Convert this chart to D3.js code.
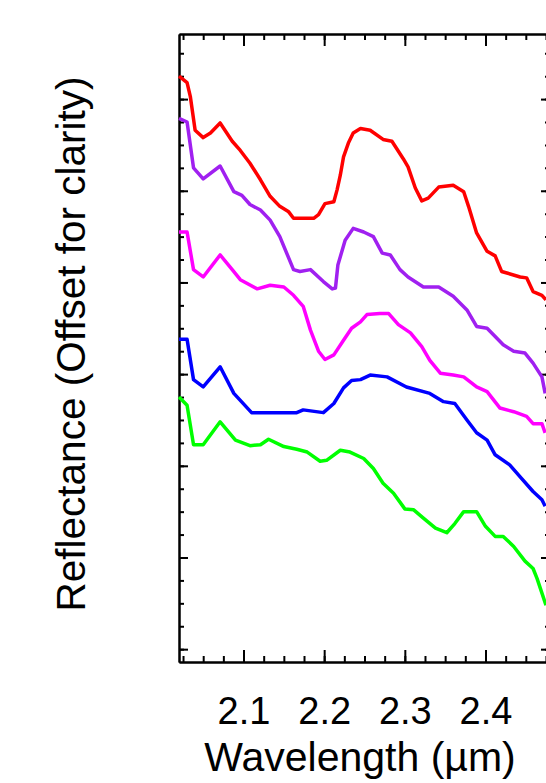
<!DOCTYPE html>
<html>
<head>
<meta charset="utf-8">
<script src="https://cdn.jsdelivr.net/npm/d3@7"></script>
<style>
  body { margin: 0; background: #fff; }
  text { font-family: "Liberation Sans", Arial, sans-serif; fill: #000; }
</style>
</head>
<body>
<div id="chart"></div>
<script>
// wavelength (um) and offset reflectance
var redW = [2.020, 2.030, 2.034, 2.040, 2.050, 2.059, 2.071, 2.086, 2.096, 2.108, 2.121, 2.133, 2.145, 2.156, 2.162, 2.187, 2.193, 2.201, 2.212, 2.216, 2.220, 2.224, 2.230, 2.236, 2.245, 2.257, 2.273, 2.284, 2.298, 2.304, 2.313, 2.321, 2.329, 2.342, 2.360, 2.373, 2.379, 2.389, 2.402, 2.412, 2.420, 2.443, 2.451, 2.459, 2.470, 2.475];
var redR = [0.725, 0.718, 0.703, 0.666, 0.658, 0.663, 0.674, 0.654, 0.644, 0.630, 0.612, 0.594, 0.583, 0.577, 0.570, 0.570, 0.574, 0.586, 0.588, 0.601, 0.617, 0.637, 0.652, 0.663, 0.668, 0.666, 0.656, 0.654, 0.635, 0.626, 0.603, 0.589, 0.592, 0.604, 0.606, 0.599, 0.583, 0.554, 0.534, 0.529, 0.512, 0.506, 0.505, 0.490, 0.486, 0.481];

var purpleW = [2.020, 2.030, 2.038, 2.050, 2.071, 2.088, 2.098, 2.108, 2.121, 2.133, 2.145, 2.162, 2.170, 2.183, 2.199, 2.210, 2.214, 2.217, 2.226, 2.236, 2.249, 2.261, 2.272, 2.282, 2.294, 2.304, 2.323, 2.342, 2.360, 2.377, 2.389, 2.402, 2.422, 2.435, 2.449, 2.459, 2.470, 2.474];
var purpleR = [0.679, 0.675, 0.625, 0.613, 0.627, 0.599, 0.595, 0.585, 0.579, 0.568, 0.550, 0.514, 0.512, 0.514, 0.501, 0.493, 0.494, 0.519, 0.546, 0.559, 0.555, 0.550, 0.532, 0.530, 0.514, 0.506, 0.495, 0.495, 0.485, 0.470, 0.452, 0.450, 0.432, 0.425, 0.423, 0.412, 0.397, 0.379];

var magentaW = [2.020, 2.030, 2.038, 2.050, 2.071, 2.086, 2.096, 2.117, 2.133, 2.150, 2.162, 2.174, 2.183, 2.193, 2.201, 2.212, 2.224, 2.234, 2.245, 2.253, 2.269, 2.280, 2.292, 2.307, 2.321, 2.331, 2.344, 2.360, 2.373, 2.389, 2.402, 2.418, 2.435, 2.451, 2.459, 2.470, 2.474];
var magentaR = [0.555, 0.555, 0.514, 0.506, 0.530, 0.514, 0.503, 0.493, 0.497, 0.495, 0.486, 0.474, 0.448, 0.425, 0.416, 0.421, 0.437, 0.450, 0.457, 0.465, 0.466, 0.466, 0.454, 0.445, 0.430, 0.415, 0.401, 0.399, 0.397, 0.386, 0.381, 0.363, 0.359, 0.354, 0.346, 0.346, 0.336];

var blueW = [2.020, 2.030, 2.038, 2.050, 2.071, 2.088, 2.110, 2.166, 2.174, 2.199, 2.212, 2.224, 2.234, 2.245, 2.257, 2.278, 2.302, 2.331, 2.348, 2.362, 2.377, 2.389, 2.402, 2.412, 2.430, 2.443, 2.459, 2.470, 2.474];
var blueR = [0.438, 0.438, 0.394, 0.386, 0.408, 0.379, 0.358, 0.358, 0.361, 0.358, 0.368, 0.385, 0.393, 0.394, 0.399, 0.397, 0.386, 0.379, 0.370, 0.368, 0.350, 0.336, 0.328, 0.312, 0.301, 0.288, 0.272, 0.263, 0.256];

var greenW = [2.020, 2.030, 2.038, 2.050, 2.071, 2.090, 2.108, 2.121, 2.131, 2.150, 2.166, 2.179, 2.195, 2.203, 2.220, 2.232, 2.249, 2.261, 2.273, 2.286, 2.300, 2.311, 2.323, 2.338, 2.352, 2.362, 2.373, 2.389, 2.400, 2.412, 2.422, 2.435, 2.449, 2.459, 2.464, 2.475];
var greenR = [0.375, 0.366, 0.323, 0.323, 0.348, 0.328, 0.322, 0.323, 0.329, 0.321, 0.318, 0.315, 0.305, 0.306, 0.317, 0.315, 0.308, 0.297, 0.281, 0.270, 0.253, 0.252, 0.243, 0.232, 0.227, 0.237, 0.250, 0.250, 0.234, 0.223, 0.223, 0.212, 0.196, 0.188, 0.177, 0.148];

var xTickValues = [2.1, 2.2, 2.3, 2.4];
var xTickLabels = ["2.1", "2.2", "2.3", "2.4"];
var xLabel = "Wavelength (\u00b5m)";
var yLabel = "Reflectance (Offset for clarity)";

var series = [
  {w: redW, r: redR, color: "#ff0000"},
  {w: purpleW, r: purpleR, color: "#a020f0"},
  {w: magentaW, r: magentaR, color: "#ff00ff"},
  {w: blueW, r: blueR, color: "#0000ff"},
  {w: greenW, r: greenR, color: "#00ff00"}
];

function spectraChart() {
  var W = 546, H = 783;
  var left = 179, top = 34, right = 550, bottom = 662;

  var x = d3.scaleLinear().domain([2.02, 2.48]).range([left, right]);
  var y = d3.scaleLinear().domain([0.086, 0.771]).range([bottom, top]);

  var svg = d3.select('#chart')
    .append('svg')
    .attr('width', W)
    .attr('height', H);

  var xMinor = d3.range(81, 100).map(function(i) { return i * 0.025; })
    .filter(function(v) { return v > 2.02 && v < 2.48; });
  var yMajor = d3.range(1, 8).map(function(i) { return i * 0.1; });
  var yMinor = d3.range(4, 31).map(function(i) { return i * 0.025; })
    .filter(function(v) { return v > 0.086 && v < 0.771; });

  function style(g) {
    g.selectAll('path, line').attr('stroke', '#000').attr('stroke-width', 2);
  }

  // minor ticks
  svg.append('g').attr('transform', 'translate(0,' + bottom + ')')
    .call(d3.axisBottom(x).tickValues(xMinor).tickSize(-6).tickSizeOuter(0).tickFormat(''))
    .call(style);
  svg.append('g').attr('transform', 'translate(0,' + top + ')')
    .call(d3.axisTop(x).tickValues(xMinor).tickSize(-6).tickSizeOuter(0).tickFormat(''))
    .call(style);
  svg.append('g').attr('transform', 'translate(' + left + ',0)')
    .call(d3.axisLeft(y).tickValues(yMinor).tickSize(-5).tickSizeOuter(0).tickFormat(''))
    .call(style);
  svg.append('g').attr('transform', 'translate(' + right + ',0)')
    .call(d3.axisRight(y).tickValues(yMinor).tickSize(-5).tickSizeOuter(0).tickFormat(''))
    .call(style);

  // major ticks
  var xb = svg.append('g').attr('transform', 'translate(0,' + bottom + ')')
    .call(d3.axisBottom(x).tickValues(xTickValues).tickSize(-12).tickSizeOuter(0).tickPadding(35)
      .tickFormat(function(d, i) { return xTickLabels[i]; }))
    .call(style);
  xb.selectAll('text').attr('font-size', 38).attr('fill', '#000')
    .style('font-family', '"Liberation Sans", Arial, sans-serif');

  svg.append('g').attr('transform', 'translate(0,' + top + ')')
    .call(d3.axisTop(x).tickValues(xTickValues).tickSize(-12).tickSizeOuter(0).tickFormat(''))
    .call(style);
  svg.append('g').attr('transform', 'translate(' + left + ',0)')
    .call(d3.axisLeft(y).tickValues(yMajor).tickSize(-9).tickSizeOuter(0).tickFormat(''))
    .call(style);
  svg.append('g').attr('transform', 'translate(' + right + ',0)')
    .call(d3.axisRight(y).tickValues(yMajor).tickSize(-9).tickSizeOuter(0).tickFormat(''))
    .call(style);

  var line = d3.line()
    .x(function(d) { return x(d[0]); })
    .y(function(d) { return y(d[1]); });

  svg.selectAll('.spectrum')
    .data(series)
    .enter()
    .append('path')
    .attr('class', 'spectrum')
    .attr('fill', 'none')
    .attr('stroke', function(d) { return d.color; })
    .attr('stroke-width', 3.5)
    .attr('stroke-linejoin', 'round')
    .attr('d', function(d) { return line(d3.zip(d.w, d.r)); });

  svg.append('text')
    .attr('x', 360)
    .attr('y', 771)
    .attr('text-anchor', 'middle')
    .attr('font-size', 41)
    .text(xLabel);

  svg.append('text')
    .attr('transform', 'translate(85,344) rotate(-90)')
    .attr('text-anchor', 'middle')
    .attr('font-size', 40.5)
    .text(yLabel);
}

spectraChart();
</script>
</body>
</html>
